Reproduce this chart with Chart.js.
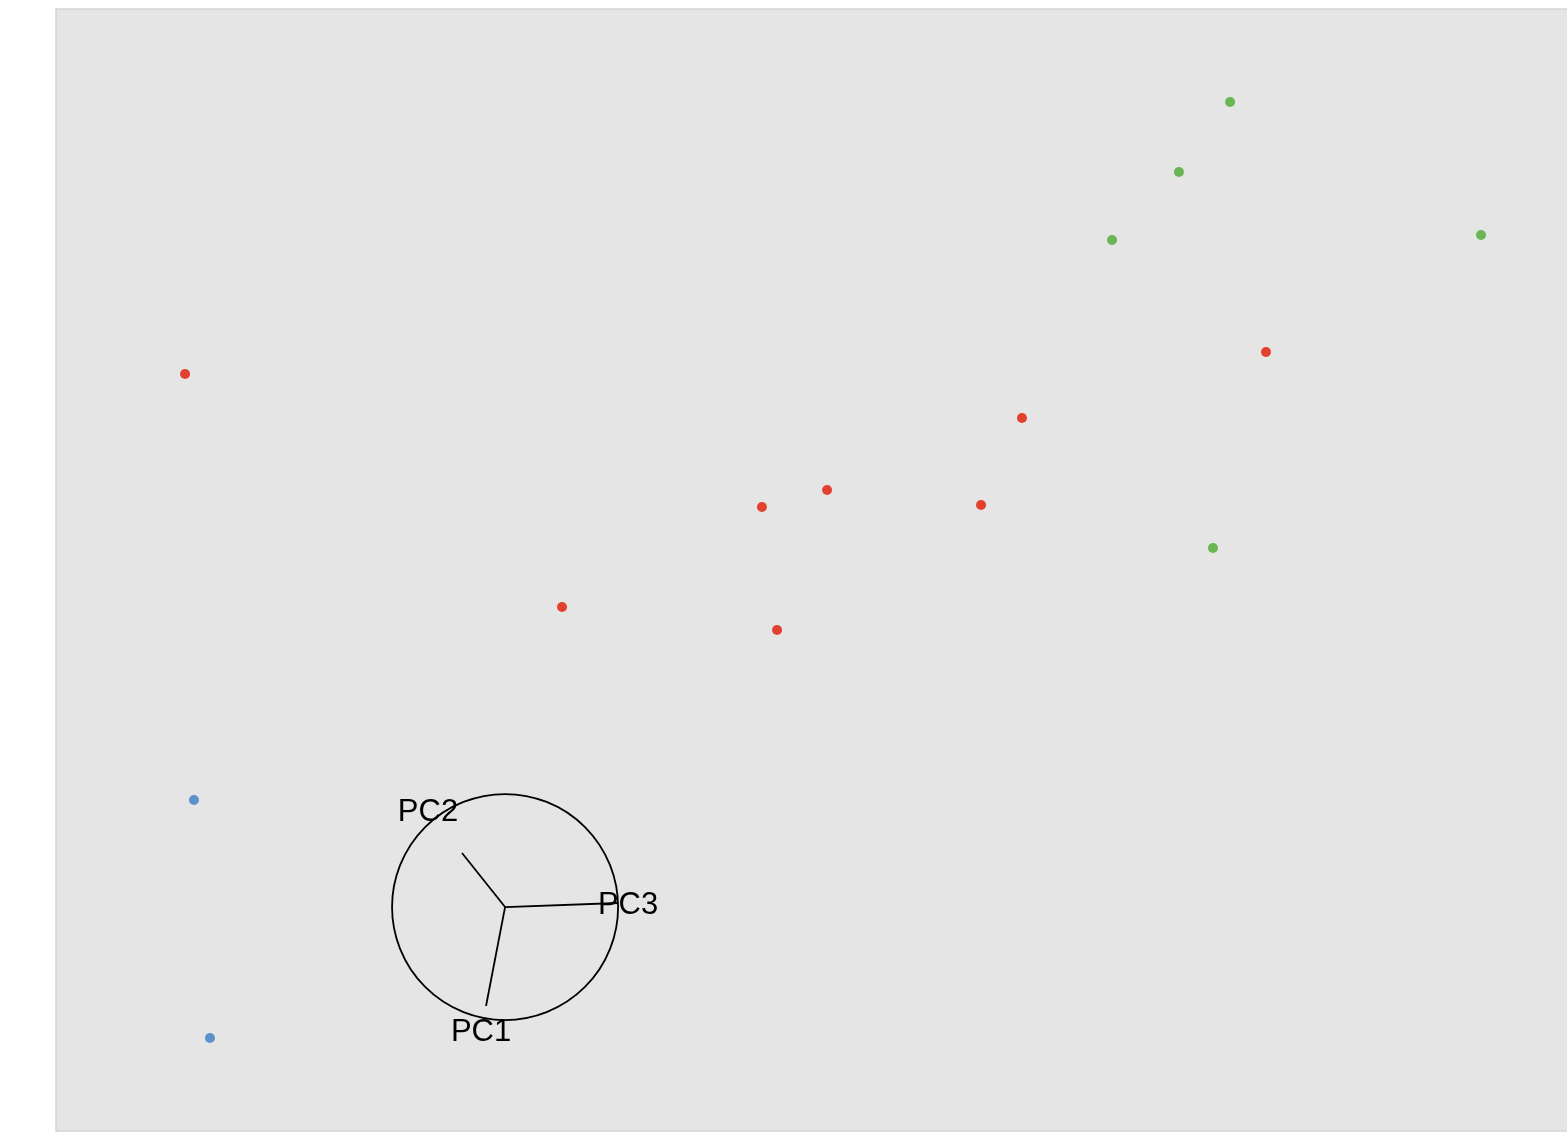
<!DOCTYPE html>
<html>
<head>
<meta charset="utf-8">
<script src="https://cdn.jsdelivr.net/npm/chart.js@4/dist/chart.umd.min.js"></script>
<style>
  html, body { margin: 0; padding: 0; background: #ffffff; overflow: hidden; }
  #wrap { position: relative; width: 1567px; height: 1133px; }
</style>
</head>
<body>
<div id="wrap"><canvas id="pca"></canvas></div>
<script>
// scores (x: 0..100 across the panel, y: 0..100 bottom to top)
var redX = [8.54, 80.08, 63.93, 51.03, 46.72, 61.22, 33.49, 47.72];
var redY = [67.47, 69.43, 63.55, 57.13, 55.61, 55.79, 46.70, 44.65];
var greenX = [77.70, 74.32, 69.89, 94.31, 76.57];
var greenY = [91.71, 85.47, 79.41, 79.86, 51.96];
var blueX = [9.13, 10.19];
var blueY = [29.50, 8.29];

// axis gizmo (same units)
var gizmoCenter = [29.72, 19.96];
var gizmoRadius = 7.48;
var gizmoLabels = ['PC1', 'PC2', 'PC3'];
var gizmoEndX = [28.46, 26.87, 37.19];
var gizmoEndY = [11.14, 24.78, 20.32];
var gizmoLabelX = [28.13, 24.62, 37.86];
var gizmoLabelY = [8.82, 28.43, 20.14];

function toPoints(xs, ys) {
    return xs.map(function (x, i) { return { x: x, y: ys[i] }; });
}

var panelBg = {
    id: 'panelBg',
    beforeDraw: function (chart) {
        var a = chart.chartArea, c = chart.ctx;
        c.save();
        c.fillStyle = '#e5e5e5';
        c.fillRect(a.left, a.top, a.right - a.left, a.bottom - a.top);
        c.strokeStyle = '#d4d4d4';
        c.lineWidth = 1.5;
        c.beginPath();
        c.moveTo(a.right + 5, a.top);
        c.lineTo(a.left, a.top);
        c.lineTo(a.left, a.bottom);
        c.lineTo(a.right + 5, a.bottom);
        c.stroke();
        c.restore();
    }
};

var gizmo = {
    id: 'gizmo',
    afterDatasetsDraw: function (chart) {
        var xs = chart.scales.x, ys = chart.scales.y, c = chart.ctx;
        var cx = xs.getPixelForValue(gizmoCenter[0]);
        var cy = ys.getPixelForValue(gizmoCenter[1]);
        var r = xs.getPixelForValue(gizmoCenter[0] + gizmoRadius) - cx;
        c.save();
        c.strokeStyle = '#000000';
        c.lineWidth = 1.8;
        c.beginPath();
        c.arc(cx, cy, r, 0, Math.PI * 2);
        c.stroke();
        gizmoEndX.forEach(function (ex, i) {
            c.beginPath();
            c.moveTo(cx, cy);
            c.lineTo(xs.getPixelForValue(ex), ys.getPixelForValue(gizmoEndY[i]));
            c.stroke();
        });
        c.fillStyle = '#000000';
        c.font = '31px "Liberation Sans", Arial, sans-serif';
        c.textAlign = 'center';
        c.textBaseline = 'middle';
        gizmoLabels.forEach(function (t, i) {
            c.fillText(t, xs.getPixelForValue(gizmoLabelX[i]), ys.getPixelForValue(gizmoLabelY[i]));
        });
        c.restore();
    }
};

var config = {
    type: 'scatter',
    data: {
        datasets: [
            { data: toPoints(redX, redY), backgroundColor: '#e2412f' },
            { data: toPoints(greenX, greenY), backgroundColor: '#6bb654' },
            { data: toPoints(blueX, blueY), backgroundColor: '#5a93c9' }
        ]
    },
    options: {
        responsive: true,
        maintainAspectRatio: false,
        animation: false,
        layout: { autoPadding: false, padding: { left: 56, top: 9, right: 0, bottom: 2 } },
        elements: { point: { radius: 5, borderWidth: 0, hoverRadius: 5 } },
        scales: {
            x: { type: 'linear', min: 0, max: 100, display: false },
            y: { type: 'linear', min: 0, max: 100, display: false }
        },
        plugins: {
            legend: { display: false },
            tooltip: { enabled: false }
        }
    },
    plugins: [panelBg, gizmo]
};

new Chart(document.getElementById('pca'), config);
</script>
</body>
</html>
